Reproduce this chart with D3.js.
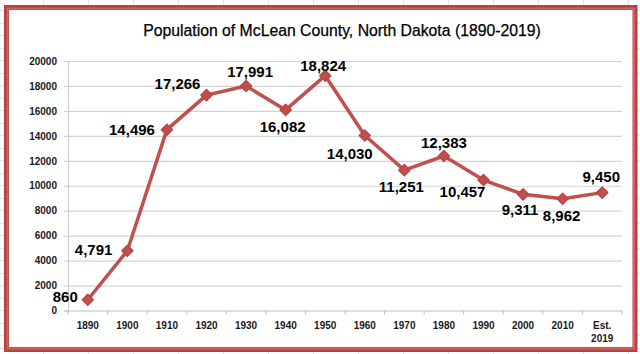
<!DOCTYPE html>
<html>
<head>
<meta charset="utf-8">
<script src="https://cdn.jsdelivr.net/npm/d3@7"></script>
<style>
  html, body { margin: 0; padding: 0; background: #fff; }
  svg { display: block; }
  text { font-family: "Liberation Sans", Arial, sans-serif; }
</style>
</head>
<body>
<svg id="chart" width="640" height="354"></svg>
<script>
// chart data
var title = "Population of McLean County, North Dakota (1890-2019)";
var years = ["1890", "1900", "1910", "1920", "1930", "1940", "1950",
             "1960", "1970", "1980", "1990", "2000", "2010", "Est. 2019"];
var population = [860, 4791, 14496, 17266, 17991, 16082, 18824,
                  14030, 11251, 12383, 10457, 9311, 8962, 9450];
var yTicks = [0, 2000, 4000, 6000, 8000, 10000, 12000, 14000, 16000, 18000, 20000];

var red = "#c0504d";
var svg = d3.select("#chart");

// faint spreadsheet cells behind the chart frame
var bg = svg.append("g").attr("stroke", "#e3e3e3").attr("stroke-width", 1);
bg.selectAll("line.v").data(d3.range(43, 640, 45)).enter().append("line")
  .attr("x1", function(d) { return d + 0.5; }).attr("x2", function(d) { return d + 0.5; })
  .attr("y1", 0).attr("y2", 354);
bg.selectAll("line.h").data(d3.range(10, 354, 12.5)).enter().append("line")
  .attr("x1", 0).attr("x2", 640)
  .attr("y1", function(d) { return Math.round(d) + 0.5; })
  .attr("y2", function(d) { return Math.round(d) + 0.5; });

// chart frame (outer darker edge, lighter inner edge)
svg.append("rect")
  .attr("x", 6.5).attr("y", 7.5).attr("width", 628.5).attr("height", 342)
  .attr("fill", "#fff").attr("stroke", "#b8403d").attr("stroke-width", 5);
svg.append("rect")
  .attr("x", 7.5).attr("y", 8.5).attr("width", 626.5).attr("height", 340)
  .attr("fill", "none").attr("stroke", "#cd6461").attr("stroke-width", 2);

var x = d3.scaleBand().domain(years).range([68, 622]).padding(0);
var y = d3.scaleLinear().domain([0, 20000]).range([310.5, 61]);
var cx = function(d) { return x(d) + x.bandwidth() / 2; };

// gridlines
svg.append("g")
  .attr("transform", "translate(68,0)")
  .call(d3.axisLeft(y).tickValues(yTicks.slice(1)).tickSize(-554).tickFormat(""))
  .call(function(g) {
    g.select(".domain").remove();
    g.selectAll(".tick line").attr("stroke", "#d4d4d4").attr("stroke-width", 1.2);
  });

// y axis
svg.append("g")
  .attr("transform", "translate(68,0)")
  .call(d3.axisLeft(y).tickValues(yTicks).tickSize(4).tickPadding(7).tickFormat(d3.format("d")))
  .call(function(g) {
    g.select(".domain").attr("stroke", "#d0d0d0").attr("stroke-width", 1.2);
    g.selectAll(".tick line").attr("stroke", "#c8c8c8");
    g.selectAll(".tick text").attr("fill", "#1a1a1a")
      .style("font-family", "'Liberation Sans', Arial, sans-serif")
      .style("font-size", "10px").style("font-weight", "bold");
  });

// x axis
var xAxis = svg.append("g")
  .attr("transform", "translate(0," + y(0) + ")")
  .call(d3.axisBottom(x).tickSize(0).tickPadding(0))
  .call(function(g) {
    g.select(".domain").attr("stroke", "#c0c0c0").attr("stroke-width", 1.2);
    g.selectAll(".tick text").remove();
  });

xAxis.selectAll("line.sep").data(years.concat(["end"])).enter().append("line")
  .attr("x1", function(d) { return d === "end" ? 622 : x(d); })
  .attr("x2", function(d) { return d === "end" ? 622 : x(d); })
  .attr("y1", 0).attr("y2", 4)
  .attr("stroke", "#c0c0c0").attr("stroke-width", 1);

var xl = xAxis.selectAll("text.xl").data(years).enter().append("text")
  .attr("class", "xl")
  .attr("x", cx)
  .attr("y", 18)
  .attr("text-anchor", "middle")
  .attr("fill", "#1a1a1a")
  .style("font-size", "10px").style("font-weight", "bold");
xl.each(function(d) {
  var parts = d.split(" ");
  var t = d3.select(this);
  parts.forEach(function(p, i) {
    t.append("tspan").attr("x", cx(d)).attr("dy", i === 0 ? 0 : 13.5).text(p);
  });
});

// line and markers
var line = d3.line()
  .x(function(d, i) { return cx(years[i]); })
  .y(function(d) { return y(d); });

svg.append("path")
  .datum(population)
  .attr("d", line)
  .attr("fill", "none")
  .attr("stroke", red)
  .attr("stroke-width", 3.5)
  .attr("stroke-linejoin", "round");

var diamond = "M0,-5.5L5.5,0L0,5.5L-5.5,0Z";
svg.selectAll("path.mk").data(population).enter().append("path")
  .attr("class", "mk")
  .attr("d", diamond)
  .attr("transform", function(d, i) { return "translate(" + cx(years[i]) + "," + y(d) + ")"; })
  .attr("fill", red)
  .attr("stroke", "#b94744")
  .attr("stroke-width", 1.5)
  .attr("stroke-linejoin", "round");

// data labels: anchor and nudge from the marker centre
var place = {
  "1890": ["end", -10, -3], "1900": ["end", -15, -1], "1910": ["end", -12, 0],
  "1920": ["middle", -29, -12], "1930": ["middle", 4, -14], "1940": ["middle", -3, 17],
  "1950": ["middle", -2, -10], "1960": ["middle", -15, 18], "1970": ["middle", -3, 16],
  "1980": ["middle", 0, -13], "1990": ["middle", -21, 12], "2000": ["middle", -3, 15],
  "2010": ["middle", -1, 17], "Est. 2019": ["middle", -1, -16]
};
var fmt = d3.format(",");
svg.selectAll("text.lbl").data(population).enter().append("text")
  .attr("class", "lbl")
  .attr("x", function(d, i) { return cx(years[i]) + place[years[i]][1]; })
  .attr("y", function(d, i) { return y(d) + place[years[i]][2]; })
  .attr("dy", "0.36em")
  .attr("text-anchor", function(d, i) { return place[years[i]][0]; })
  .attr("fill", "#000")
  .style("font-size", "15px").style("font-weight", "bold")
  .text(function(d) { return fmt(d); });

// title, fitted to the reference width
var tt = svg.append("text")
  .attr("x", 342).attr("y", 36)
  .attr("text-anchor", "middle")
  .attr("fill", "#000")
  .attr("stroke", "#000").attr("stroke-width", 0.25)
  .style("font-size", "16px")
  .text(title);
var w = tt.node().getComputedTextLength();
tt.style("font-size", (16 * 398 / w).toFixed(2) + "px");
</script>
</body>
</html>
